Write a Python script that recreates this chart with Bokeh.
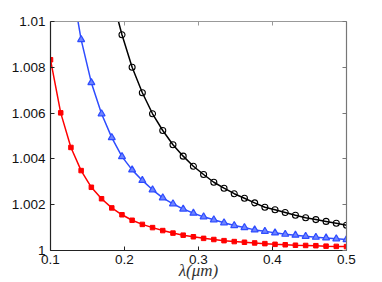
from bokeh.plotting import figure
from bokeh.models import LinearAxis, FixedTicker, Range1d
from bokeh.embed import file_html
from bokeh.resources import INLINE

# wavelength (um)
lam = [0.1000, 0.1138, 0.1276, 0.1414, 0.1552, 0.1690, 0.1828, 0.1966, 0.2103, 0.2241,
       0.2379, 0.2517, 0.2655, 0.2793, 0.2931, 0.3069, 0.3207, 0.3345, 0.3483, 0.3621,
       0.3759, 0.3897, 0.4034, 0.4172, 0.4310, 0.4448, 0.4586, 0.4724, 0.4862, 0.5000]

n_red = [1.00833, 1.00601, 1.00450, 1.00349, 1.00276, 1.00226, 1.00186, 1.00156, 1.00132, 1.00114,
         1.00100, 1.00087, 1.00076, 1.00067, 1.00060, 1.00053, 1.00048, 1.00043, 1.00039, 1.00036,
         1.00033, 1.00030, 1.00027, 1.00025, 1.00023, 1.00022, 1.00021, 1.00019, 1.00018, 1.00017]

n_blue = [1.0212, 1.0155, 1.0118, 1.00921, 1.00733, 1.00597, 1.00493, 1.00410, 1.00352, 1.00306,
          1.00265, 1.00230, 1.00204, 1.00181, 1.00163, 1.00147, 1.00134, 1.00121, 1.00109, 1.00100,
          1.00090, 1.00084, 1.00077, 1.00071, 1.00067, 1.00062, 1.00058, 1.00055, 1.00051, 1.00048]

n_black = [1.0446, 1.0331, 1.0254, 1.0201, 1.0162, 1.0133, 1.0111, 1.00942, 1.00800, 1.00689,
           1.00597, 1.00524, 1.00462, 1.00412, 1.00368, 1.00332, 1.00298, 1.00272, 1.00248, 1.00228,
           1.00208, 1.00189, 1.00178, 1.00166, 1.00154, 1.00143, 1.00135, 1.00127, 1.00119, 1.00110]

x_ticks = [0.1, 0.2, 0.3, 0.4, 0.5]
x_tick_labels = ["0.1", "0.2", "0.3", "0.4", "0.5"]
y_ticks = [1.0, 1.002, 1.004, 1.006, 1.008, 1.01]
y_tick_labels = ["1", "1.002", "1.004", "1.006", "1.008", "1.01"]
x_label = "λ(μm)"

p = figure(width=382, height=282, x_range=Range1d(0.1, 0.5), y_range=Range1d(1.0, 1.01),
           output_backend="svg", toolbar_location=None,
           min_border_left=50, min_border_right=36, min_border_top=21, min_border_bottom=32)
p.grid.visible = False
p.outline_line_color = None
p.background_fill_color = "white"
p.border_fill_color = "white"

def style_axis(ax, ticks, labels, line_color, show_labels=True):
    ax.ticker = FixedTicker(ticks=ticks)
    ax.major_label_overrides = {t: l for t, l in zip(ticks, labels)}
    ax.axis_line_color = line_color
    ax.axis_line_width = 1.2
    ax.major_tick_line_color = line_color
    ax.major_tick_in = 4
    ax.major_tick_out = 0
    ax.minor_tick_line_color = None
    ax.major_label_standoff = 5
    ax.major_label_text_font = "Liberation Sans"
    ax.major_label_text_color = "#111111"
    if show_labels:
        ax.major_label_text_font_size = "13.5px"
    else:
        ax.major_label_text_font_size = "0px"

style_axis(p.xaxis[0], x_ticks, x_tick_labels, "#222222")
style_axis(p.yaxis[0], y_ticks, y_tick_labels, "#222222")
p.xaxis[0].major_label_standoff = 4
p.xaxis[0].axis_label = x_label
p.xaxis[0].axis_label_standoff = -6
p.xaxis[0].axis_label_text_font = "Liberation Serif"
p.xaxis[0].axis_label_text_font_style = "italic"
p.xaxis[0].axis_label_text_font_size = "17px"
p.xaxis[0].axis_label_text_color = "#333333"

top = LinearAxis()
style_axis(top, x_ticks, ["" for _ in x_ticks], "#999999", show_labels=False)
p.add_layout(top, "above")
right = LinearAxis()
style_axis(right, y_ticks, ["" for _ in y_ticks], "#777777", show_labels=False)
p.add_layout(right, "right")

# curves
p.line(lam, n_red, line_color="#ff0000", line_width=1.5)
p.scatter(lam, n_red, marker="square", size=4.5, fill_color="#ff0000", line_color="#ff0000")

p.line(lam, n_blue, line_color="#2e4cff", line_width=1.5)
p.scatter(lam, n_blue, marker="triangle", size=7, fill_color="#6f85ff",
          line_color="#2e4cff", line_width=1.2)

p.line(lam, n_black, line_color="#000000", line_width=1.5)
p.scatter(lam, n_black, marker="circle", size=6, fill_color=None,
          line_color="#000000", line_width=1.1)

open("out.html", "w").write(file_html(p, INLINE))
